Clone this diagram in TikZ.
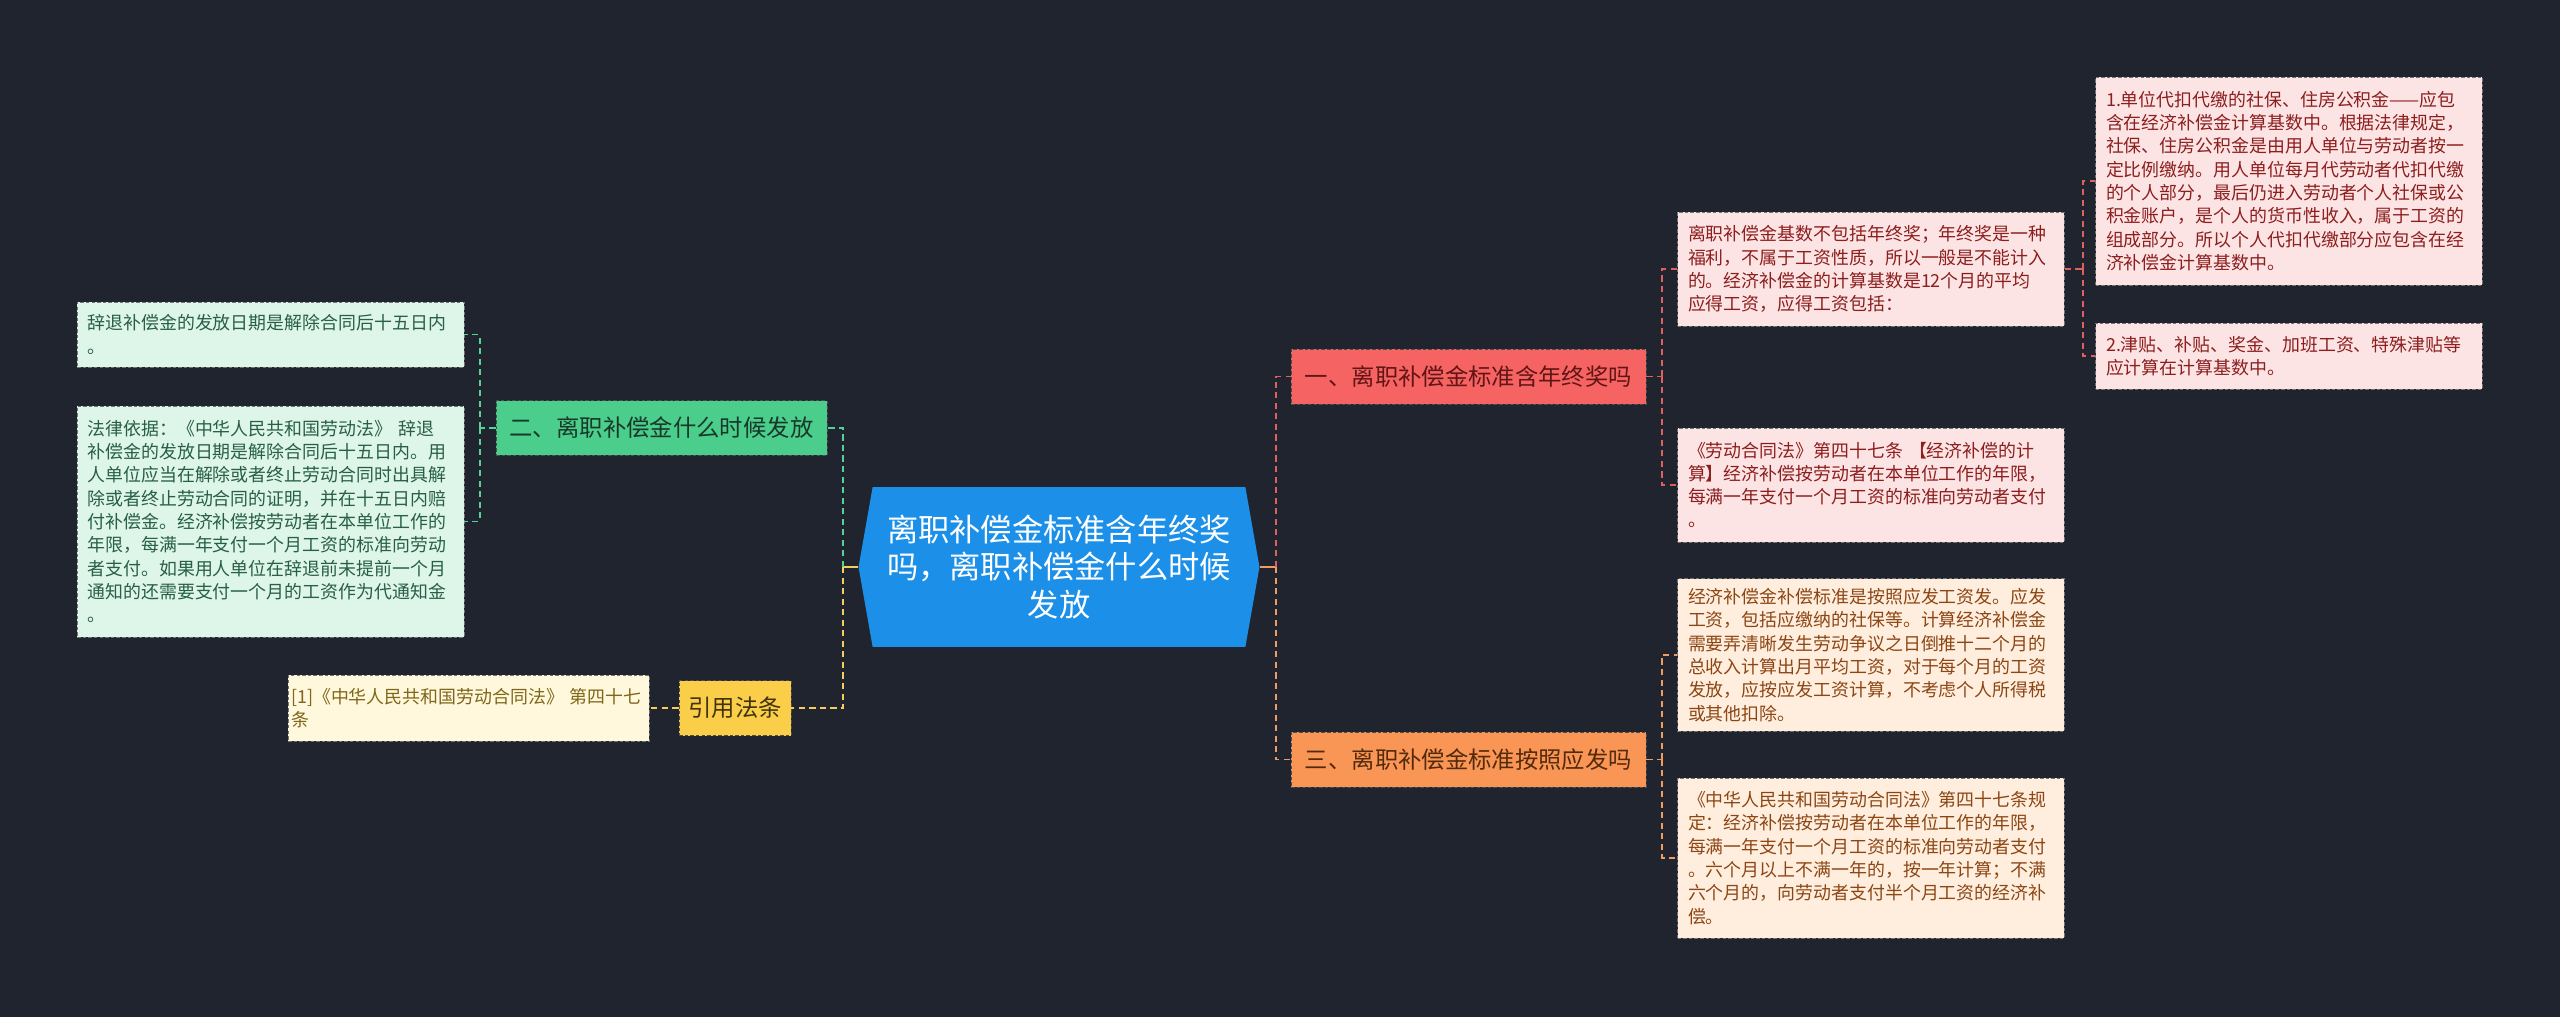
\documentclass[tikz,border=0pt]{standalone}
\usepackage{fontspec}
\setmainfont{Noto Sans CJK SC}
\usetikzlibrary{shapes.symbols}

% 颜色
\definecolor{bgc}{RGB}{32,36,47}
\definecolor{rootc}{RGB}{28,144,232}
\definecolor{redc}{RGB}{245,99,99}
\definecolor{orac}{RGB}{250,150,85}
\definecolor{grnc}{RGB}{75,205,140}
\definecolor{yelc}{RGB}{250,206,72}
\definecolor{redl}{RGB}{253,228,228}
\definecolor{oral}{RGB}{255,238,222}
\definecolor{grnl}{RGB}{222,245,233}
\definecolor{yell}{RGB}{255,248,220}
\definecolor{redt}{RGB}{140,30,30}
\definecolor{orat}{RGB}{140,70,20}
\definecolor{grnt}{RGB}{40,95,70}
\definecolor{yelt}{RGB}{128,102,26}
\definecolor{redk}{RGB}{225,95,95}
\definecolor{orak}{RGB}{240,155,95}
\definecolor{grnk}{RGB}{85,210,150}
\definecolor{yelk}{RGB}{245,205,90}

\tikzset{
  leaf/.style={rectangle, draw=black!55, dash pattern=on 2pt off 1.2pt, line width=0.5pt,
    align=left, text width=7.32cm, inner xsep=0.21cm, inner ysep=3pt,
    font=\fontsize{10.2}{13.25}\selectfont},
  leafred/.style={leaf, fill=redl, text=redt},
  leafora/.style={leaf, fill=oral, text=orat},
  leafgrn/.style={leaf, fill=grnl, text=grnt},
  leafyel/.style={leaf, fill=yell, text=yelt},
  branch/.style={rectangle, draw=black!70, dash pattern=on 2pt off 1.2pt, line width=0.5pt,
    minimum height=1.1cm, inner sep=2pt, font=\fontsize{13.3}{16}\selectfont},
  link/.style={line width=1.1pt, dash pattern=on 3.5pt off 2.5pt},
  stub/.style={line width=1.1pt}
}

\begin{document}
\begin{tikzpicture}[x=0.02cm, y=-0.02cm]
  \useasboundingbox (0,0) rectangle (2560,1017);
  \fill[bgc] (0,0) rectangle (2560,1017);

  % 中心
  \node[signal, signal to=east and west, signal pointer angle=160, fill=rootc, text=white,
    minimum width=8.02cm, minimum height=3.2cm, align=center,
    font=\fontsize{17.8}{21.6}\selectfont] (root) at (1059,567)
    {离职补偿金标准含年终奖\\吗，离职补偿金什么时候\\发放};

  % 分支
  \node[branch, fill=redc, text=redt!70!black, minimum width=7.1cm] (n1) at (1468.5,376.5) {一、离职补偿金标准含年终奖吗};
  \node[branch, fill=orac, text=orat!60!black, minimum width=7.1cm] (n3) at (1468.5,759.5) {三、离职补偿金标准按照应发吗};
  \node[branch, fill=grnc, text=grnt!60!black, minimum width=6.62cm] (n2) at (661.5,428) {二、离职补偿金什么时候发放};
  \node[branch, fill=yelc, text=yelt!50!black, minimum width=2.24cm] (cite) at (735,708) {引用法条};

  % 右侧叶子
  \node[leafred, minimum height=2.28cm] (A) at (1871,269)
    {离职补偿金基数不包括年终奖；年终奖是一种\\福利，不属于工资性质，所以一般是不能计入\\的。经济补偿金的计算基数是12个月的平均\\应得工资，应得工资包括：};
  \node[leafred, minimum height=2.28cm] (B) at (1871,485)
    {《劳动合同法》第四十七条 【经济补偿的计\\算】经济补偿按劳动者在本单位工作的年限，\\每满一年支付一个月工资的标准向劳动者支付\\。};
  \node[leafred, minimum height=4.16cm] (A1) at (2289,181)
    {1.单位代扣代缴的社保、住房公积金——应包\\含在经济补偿金计算基数中。根据法律规定，\\社保、住房公积金是由用人单位与劳动者按一\\定比例缴纳。用人单位每月代劳动者代扣代缴\\的个人部分，最后仍进入劳动者个人社保或公\\积金账户，是个人的货币性收入，属于工资的\\组成部分。所以个人代扣代缴部分应包含在经\\济补偿金计算基数中。};
  \node[leafred, minimum height=1.32cm] (A2) at (2289,356)
    {2.津贴、补贴、奖金、加班工资、特殊津贴等\\应计算在计算基数中。};
  \node[leafora, minimum height=3.06cm] (C) at (1871,655)
    {经济补偿金补偿标准是按照应发工资发。应发\\工资，包括应缴纳的社保等。计算经济补偿金\\需要弄清晰发生劳动争议之日倒推十二个月的\\总收入计算出月平均工资，对于每个月的工资\\发放，应按应发工资计算，不考虑个人所得税\\或其他扣除。};
  \node[leafora, minimum height=3.2cm] (D) at (1871,858)
    {《中华人民共和国劳动合同法》第四十七条规\\定：经济补偿按劳动者在本单位工作的年限，\\每满一年支付一个月工资的标准向劳动者支付\\。六个月以上不满一年的，按一年计算；不满\\六个月的，向劳动者支付半个月工资的经济补\\偿。};

  % 左侧叶子
  \node[leafgrn, minimum height=1.3cm] (L1) at (270.5,334.5)
    {辞退补偿金的发放日期是解除合同后十五日内\\。};
  \node[leafgrn, minimum height=4.62cm] (L2) at (270.5,521.5)
    {法律依据：《中华人民共和国劳动法》 辞退\\补偿金的发放日期是解除合同后十五日内。用\\人单位应当在解除或者终止劳动合同时出具解\\除或者终止劳动合同的证明，并在十五日内赔\\付补偿金。经济补偿按劳动者在本单位工作的\\年限，每满一年支付一个月工资的标准向劳动\\者支付。如果用人单位在辞退前未提前一个月\\通知的还需要支付一个月的工资作为代通知金\\。};
  \node[leafyel, text width=7.1cm, inner xsep=0.06cm, minimum height=1.32cm] (cref) at (468.5,708)
    {[1]《中华人民共和国劳动合同法》 第四十七\\条};

  % 连线
  \draw[stub, orak] (root.east) -- ++(16,0) coordinate (rj);
  \draw[link, redk] (rj) |- (n1);
  \draw[link, orak] (rj) |- (n3);
  \draw[stub, yelk] (root.west) -- ++(-15,0) coordinate (lj);
  \draw[link, grnk] (lj) |- (n2);
  \draw[link, yelk] (lj) |- (cite);

  \draw[link, redk] (n1.east) -- ++(16,0) coordinate (j1);
  \draw[link, redk] (j1) |- (A);
  \draw[link, redk] (j1) |- (B);
  \draw[link, redk] (A.east) -- ++(18,0) coordinate (ja);
  \draw[link, redk] (ja) |- (A1);
  \draw[link, redk] (ja) |- (A2);

  \draw[link, orak] (n3.east) -- ++(16,0) coordinate (j3);
  \draw[link, orak] (j3) |- (C);
  \draw[link, orak] (j3) |- (D);

  \draw[link, grnk] (n2.west) -- ++(-16,0) coordinate (j2);
  \draw[link, grnk] (j2) |- (L1);
  \draw[link, grnk] (j2) |- (L2);

  \draw[link, yelk] (cite) -- (cref);
\end{tikzpicture}
\end{document}
